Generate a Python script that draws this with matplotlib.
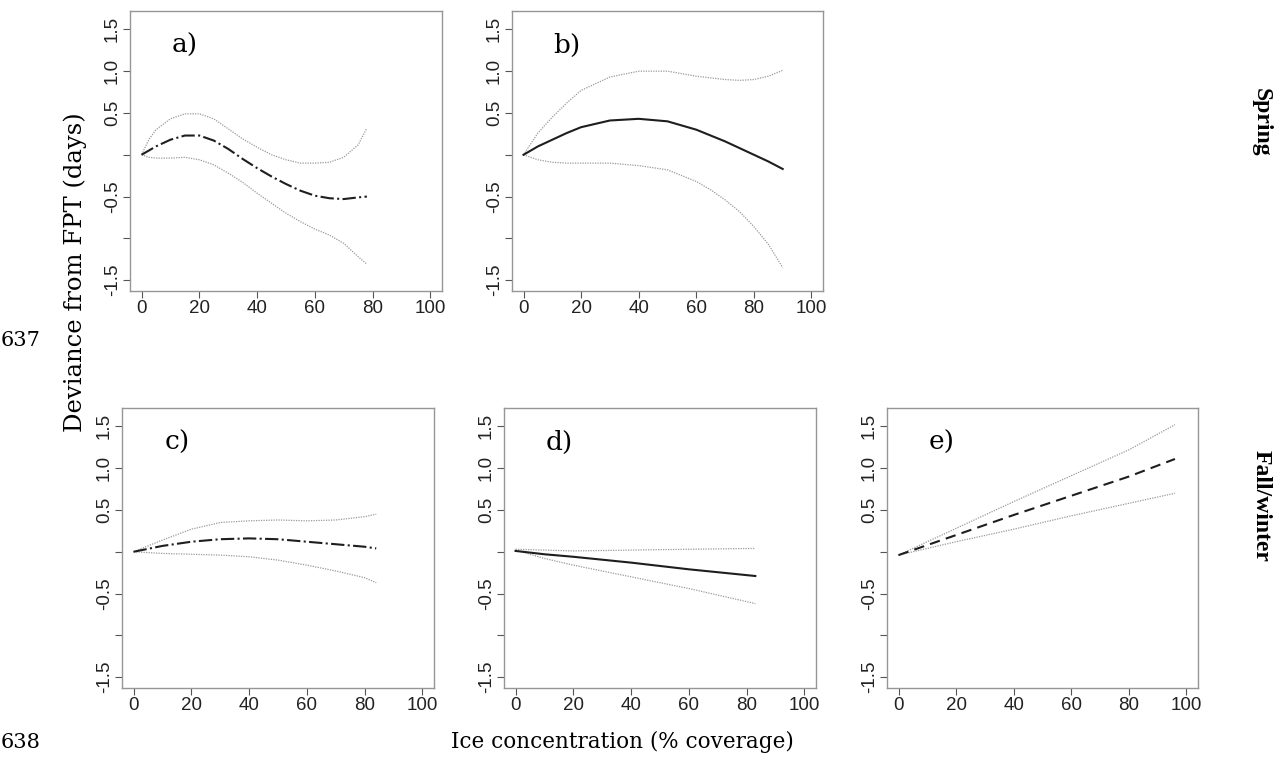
import numpy as np
import matplotlib
matplotlib.use("Agg")
import matplotlib.pyplot as plt

# panel data: x (ice concentration %), fitted deviance and confidence bounds
a_x = [0, 2.5, 5, 10, 15, 20, 25, 30, 35, 40, 45, 50, 55, 60, 65, 70, 75, 78]
a_fit = [0, 0.05, 0.10, 0.18, 0.23, 0.23, 0.17, 0.07, -0.05, -0.16, -0.26, -0.35, -0.43, -0.49, -0.52, -0.53, -0.51, -0.50]
a_up = [0, 0.18, 0.30, 0.43, 0.49, 0.49, 0.43, 0.31, 0.19, 0.09, 0.0, -0.06, -0.10, -0.10, -0.09, -0.03, 0.12, 0.32]
a_lo = [0, -0.03, -0.04, -0.04, -0.03, -0.06, -0.12, -0.22, -0.33, -0.46, -0.58, -0.70, -0.80, -0.89, -0.96, -1.06, -1.22, -1.31]

b_x = [0, 5, 10, 15, 20, 30, 40, 50, 60, 65, 70, 75, 80, 85, 90]
b_fit = [0, 0.10, 0.18, 0.26, 0.33, 0.41, 0.43, 0.40, 0.30, 0.23, 0.16, 0.08, 0.0, -0.08, -0.17]
b_up = [0, 0.26, 0.45, 0.62, 0.77, 0.93, 1.0, 1.0, 0.94, 0.92, 0.90, 0.89, 0.90, 0.94, 1.01]
b_lo = [0, -0.06, -0.09, -0.10, -0.10, -0.10, -0.13, -0.18, -0.32, -0.42, -0.54, -0.68, -0.86, -1.07, -1.35]

c_x = [0, 10, 20, 30, 40, 50, 60, 70, 80, 84]
c_fit = [0, 0.07, 0.12, 0.15, 0.16, 0.15, 0.12, 0.09, 0.06, 0.04]
c_up = [0, 0.14, 0.27, 0.35, 0.37, 0.38, 0.37, 0.38, 0.42, 0.45]
c_lo = [0, -0.02, -0.03, -0.04, -0.06, -0.10, -0.16, -0.23, -0.31, -0.37]

d_x = [0, 10, 20, 40, 60, 83]
d_fit = [0.01, -0.03, -0.06, -0.13, -0.21, -0.29]
d_up = [0.03, 0.02, 0.01, 0.02, 0.03, 0.04]
d_lo = [0.02, -0.08, -0.16, -0.30, -0.44, -0.62]

e_x = [0, 20, 40, 60, 80, 96]
e_fit = [-0.04, 0.20, 0.44, 0.67, 0.90, 1.11]
e_up = [-0.04, 0.28, 0.60, 0.91, 1.22, 1.52]
e_lo = [-0.04, 0.12, 0.27, 0.43, 0.58, 0.70]

panel_labels = ["a)", "b)", "c)", "d)", "e)"]
x_ticks = [0, 20, 40, 60, 80, 100]
y_ticks = [-1.5, -1.0, -0.5, 0, 0.5, 1.0, 1.5]
y_ticklabels = ["-1.5", "", "-0.5", "", "0.5", "1.0", "1.5"]

W, H = 1287, 763
fig = plt.figure(figsize=(W / 100, H / 100), dpi=100)


def px_axes(left, top, right, bottom):
    return fig.add_axes([left / W, 1 - bottom / H, (right - left) / W, (bottom - top) / H])


panels = [
    (px_axes(130, 11, 442, 291), a_x, a_fit, a_up, a_lo, "-."),
    (px_axes(512, 11, 823, 291), b_x, b_fit, b_up, b_lo, "-"),
    (px_axes(122, 408, 434, 688), c_x, c_fit, c_up, c_lo, "-."),
    (px_axes(504, 408, 816, 688), d_x, d_fit, d_up, d_lo, "-"),
    (px_axes(887, 408, 1198, 688), e_x, e_fit, e_up, e_lo, (0, (5, 3))),
]

for (ax, x, fit, up, lo, ls), lab in zip(panels, panel_labels):
    ax.plot(x, up, color="#9a9a9a", lw=0.9, linestyle=(0, (1, 1)))
    ax.plot(x, lo, color="#9a9a9a", lw=0.9, linestyle=(0, (1, 1)))
    ax.plot(x, fit, color="#1e1e1e", lw=1.5, linestyle=ls)
    ax.set_xlim(-4, 104)
    ax.set_ylim(-1.63, 1.72)
    ax.set_xticks(x_ticks)
    ax.set_yticks(y_ticks)
    ax.set_yticklabels(y_ticklabels, rotation=90, va="center")
    ax.tick_params(direction="out", length=5, width=0.8, color="#555555",
                   labelsize=13.5, pad=1.5)
    for lbl in ax.get_xticklabels() + ax.get_yticklabels():
        lbl.set_family("Liberation Sans")
        lbl.set_color("#222222")
    for s in ax.spines.values():
        s.set_color("#969696")
        s.set_linewidth(1.0)
    ax.text(15, 1.31, lab, family="DejaVu Serif", fontsize=19, ha="center", va="center")

fig.text(75 / W, 1 - 272 / H, "Deviance from FPT (days)", rotation=90,
         family="DejaVu Serif", fontsize=17.5, ha="center", va="center")
fig.text(622 / W, 1 - 742 / H, "Ice concentration (% coverage)",
         family="DejaVu Serif", fontsize=15.5, ha="center", va="center")
fig.text(1 / W, 1 - 340 / H, "637", family="DejaVu Serif", fontsize=15, ha="left", va="center")
fig.text(1 / W, 1 - 742 / H, "638", family="DejaVu Serif", fontsize=15, ha="left", va="center")
fig.text(1261 / W, 1 - 122 / H, "Spring", rotation=-90, family="Liberation Serif",
         fontweight="bold", fontsize=17, ha="center", va="center")
fig.text(1261 / W, 1 - 506 / H, "Fall/winter", rotation=-90, family="Liberation Serif",
         fontweight="bold", fontsize=17, ha="center", va="center")

fig.savefig("out.png", dpi=100)
